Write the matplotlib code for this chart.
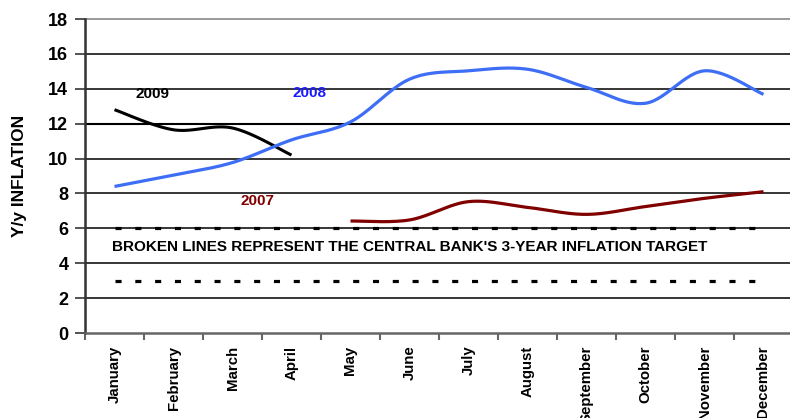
import numpy as np
import matplotlib
matplotlib.use("Agg")
import matplotlib.pyplot as plt
from matplotlib.ticker import FixedLocator

months = ["January", "February", "March", "April", "May", "June", "July",
          "August", "September", "October", "November", "December"]
y2009 = [12.8, 11.65, 11.75, 10.2]
y2008 = [8.4, 9.05, 9.77, 11.07, 12.1, 14.55, 15.03, 15.12, 14.08, 13.17, 15.03, 13.68]
y2007_months = months[4:]
y2007 = [6.42, 6.48, 7.53, 7.2, 6.8, 7.25, 7.72, 8.1]
target_upper = [6] * 12
target_lower = [3] * 12

plt.rcParams['font.family'] = ['Liberation Sans', 'DejaVu Sans']
plt.rcParams['font.weight'] = 'bold'


def smooth(xs, ys, n=30):
    """Excel-style Bezier smoothing through the given points."""
    xs = np.asarray(xs, float)
    ys = np.asarray(ys, float)
    P = np.column_stack([xs, ys])
    out = [P[0]]
    m = len(P)
    for i in range(m - 1):
        p0 = P[i - 1] if i > 0 else P[i]
        p1 = P[i]
        p2 = P[i + 1]
        p3 = P[i + 2] if i + 2 < m else P[i + 1]
        c1 = p1 + (p2 - p0) / 6.0
        c2 = p2 - (p3 - p1) / 6.0
        t = np.linspace(0, 1, n)[1:, None]
        seg = ((1 - t) ** 3) * p1 + 3 * ((1 - t) ** 2) * t * c1 + 3 * (1 - t) * t ** 2 * c2 + t ** 3 * p2
        out.extend(seg)
    out = np.array(out)
    return out[:, 0], out[:, 1]


fig = plt.figure(figsize=(7.9, 4.18), dpi=100)
ax = fig.add_axes([85 / 790, 85 / 418, 708 / 790, 314 / 418])

idx = {m: i for i, m in enumerate(months)}

# gridlines
for v in range(2, 18, 2):
    ax.axhline(v, color='black', lw=1.1 if v != 12 else 1.5, zorder=1)
ax.axhline(18, color='#888888', lw=1.2, zorder=1, clip_on=False)

# target dashed lines
x_all = [idx[m] for m in months]
for tgt in (target_upper, target_lower):
    ax.plot(x_all, tgt, color='black', lw=2.3, ls=(0, (1.9, 4.3)),
            dash_capstyle='butt', zorder=2)

# series
sx, sy = smooth([idx[m] for m in months[:4]], y2009)
ax.plot(sx, sy, color='black', lw=2.2, zorder=3, solid_capstyle='butt')
sx, sy = smooth(x_all, y2008)
ax.plot(sx, sy, color='#3d6ef5', lw=2.3, zorder=3, solid_capstyle='butt')
sx, sy = smooth([idx[m] for m in y2007_months], y2007)
ax.plot(sx, sy, color='#800000', lw=2.3, zorder=3, solid_capstyle='butt')

# annotations
ax.text(0.65, 13.7, "2009", color='black', fontsize=11, fontweight='bold', ha='center', va='center')
ax.text(3.31, 13.75, "2008", color='#1a1aff', fontsize=11, fontweight='bold', ha='center', va='center')
ax.text(2.43, 7.57, "2007", color='#800000', fontsize=11, fontweight='bold', ha='center', va='center')
ax.text(-0.05, 4.93, "BROKEN LINES REPRESENT THE CENTRAL BANK'S 3-YEAR INFLATION TARGET",
        color='black', fontsize=11, fontweight='bold', ha='left', va='center')

ax.set_xlim(-0.5, 11.5)
ax.set_ylim(0, 18)
ax.set_yticks(range(0, 19, 2))
ax.set_yticklabels([str(v) for v in range(0, 19, 2)], fontsize=13, fontweight='bold')
ax.set_xticks(x_all)
ax.set_xticklabels(months, rotation=90, fontsize=10.8, fontweight='bold', va='top', ha='center')
ax.xaxis.set_minor_locator(FixedLocator(np.arange(-0.5, 12, 1)))
ax.tick_params(axis='x', which='major', length=0, pad=9)
ax.tick_params(axis='x', which='minor', length=5, width=1.5, color='#666666')
ax.tick_params(axis='y', length=7, width=1.3, color='#444444', pad=5)

for s in ('top', 'right'):
    ax.spines[s].set_visible(False)
ax.spines['left'].set_color('#333333')
ax.spines['left'].set_linewidth(1.8)
ax.spines['bottom'].set_color('#666666')
ax.spines['bottom'].set_linewidth(1.8)

ax.set_ylabel("Y/y INFLATION", fontsize=12.5, fontweight='bold')
ax.yaxis.set_label_coords(-65 / 708, 157 / 314)
ax.yaxis.label.set_va('center')

fig.savefig("out.png", dpi=100)
